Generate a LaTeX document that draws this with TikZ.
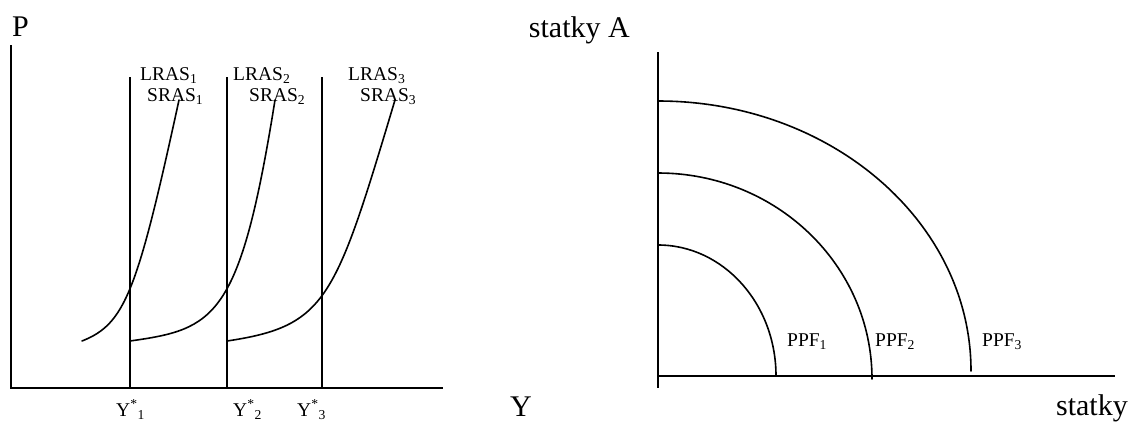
\documentclass[tikz,border=0pt]{standalone}
\usepackage{fontspec}
\setmainfont{Liberation Serif}
\usetikzlibrary{positioning}

\begin{document}
\begin{tikzpicture}[x=1pt,y=-1pt,
        osa/.style={line width=1.6pt},
        krivka/.style={line width=1.6pt, line cap=round},
        popis/.style={inner sep=0pt, anchor=base west, font=\fontsize{19.5}{21}\selectfont},
        velky/.style={inner sep=0pt, font=\fontsize{30}{32}\selectfont}
    ]
    \useasboundingbox (0,0) rectangle (1137,421);

    % levy graf: AS
    \coordinate (pTop) at (11,45);
    \coordinate (pO) at (11,388);
    \coordinate (yEnd) at (443,388);
    \draw[osa] (pTop) -- (pO) -- (yEnd);

    \node[velky, anchor=base west] (osaP) at (12,36) {P};
    \node[velky, anchor=base west] (osaY) at (510,416) {Y};

    % LRAS
    \foreach \x/\i in {130/1, 227/2, 322/3} {
        \coordinate (lras\i T) at (\x,77);
        \coordinate (lras\i B) at (\x,388);
        \draw[osa] (lras\i T) -- (lras\i B);
    }

    % SRAS
    \coordinate (sras1S) at (82,341);
    \coordinate (sras1E) at (179,100);
    \coordinate (sras2S) at (130,341);
    \coordinate (sras2E) at (275,100);
    \coordinate (sras3S) at (227,341);
    \coordinate (sras3E) at (395,100);
    \draw[krivka] (sras1S) .. controls (125,324) and (137,293) .. (sras1E);
    \draw[krivka] (sras2S) .. controls (215,329) and (240,319) .. (sras2E);
    \draw[krivka] (sras3S) .. controls (327,326) and (335,300) .. (sras3E);

    \node[popis] (lras1) at (140,80) {LRAS\textsubscript{1}};
    \node[popis] (sras1) at (147,101) {SRAS\textsubscript{1}};
    \node[popis] (lras2) at (233,80) {LRAS\textsubscript{2}};
    \node[popis] (sras2) at (249,101) {SRAS\textsubscript{2}};
    \node[popis] (lras3) at (348,80) {LRAS\textsubscript{3}};
    \node[popis] (sras3) at (360,101) {SRAS\textsubscript{3}};

    \node[popis] (ystar1) at (116,416) {Y\textsuperscript{*}\textsubscript{1}};
    \node[popis] (ystar2) at (233,416) {Y\textsuperscript{*}\textsubscript{2}};
    \node[popis] (ystar3) at (297,416) {Y\textsuperscript{*}\textsubscript{3}};

    % pravy graf: PPF
    \coordinate (aTop) at (658,52);
    \coordinate (aBot) at (658,388);
    \coordinate (aO) at (658,376);
    \coordinate (bEnd) at (1115,376);
    \draw[osa] (aTop) -- (aBot);
    \draw[osa] (aO) -- (bEnd);

    \node[velky, anchor=base east] (statkyA) at (630,37) {statky A};
    \node[velky, anchor=base east] (statkyB) at (1128,415) {statky};

    \coordinate (ppf1T) at (658,245);
    \coordinate (ppf2T) at (658,173);
    \coordinate (ppf3T) at (658,101);
    \draw[krivka] (ppf1T) arc[start angle=-90, end angle=0, x radius=118, y radius=131];
    \draw[krivka] (ppf2T) arc[start angle=-90, end angle=0, x radius=214, y radius=206];
    \draw[krivka] (ppf3T) arc[start angle=-90, end angle=0, x radius=313, y radius=270];

    \node[popis] (ppf1) at (787,346) {PPF\textsubscript{1}};
    \node[popis] (ppf2) at (875,346) {PPF\textsubscript{2}};
    \node[popis] (ppf3) at (982,346) {PPF\textsubscript{3}};

\end{tikzpicture}
\end{document}
